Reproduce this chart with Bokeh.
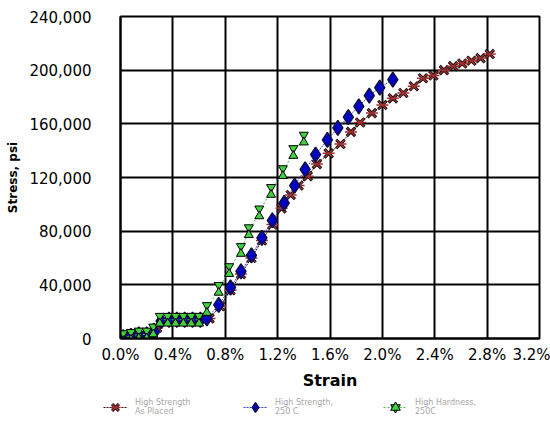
from bokeh.plotting import figure
from bokeh.layouts import column
from bokeh.models import (FixedTicker, NumeralTickFormatter, PrintfTickFormatter,
                          Legend, LegendItem, ColumnDataSource)
from bokeh.transform import dodge
from bokeh.embed import file_html
from bokeh.resources import INLINE

# Strain in percent, stress in thousands of psi
hs_placed_strain = [0.02, 0.09, 0.16, 0.22, 0.28, 0.33, 0.39, 0.45, 0.51, 0.57, 0.63,
                    0.68, 0.76, 0.84, 0.92, 1.00, 1.08, 1.16, 1.23, 1.30, 1.36, 1.43,
                    1.50, 1.59, 1.68, 1.76, 1.83, 1.92, 2.00, 2.08, 2.16, 2.24, 2.31,
                    2.39, 2.47, 2.54, 2.61, 2.68, 2.75, 2.82]
hs_placed_stress = [1, 2, 3, 4, 8, 13, 14, 14, 14, 14, 14,
                    15, 24, 36, 48, 60, 73, 85, 97, 107, 114, 121,
                    130, 138, 145, 154, 161, 168, 174, 179, 183, 188, 194,
                    196, 200, 203, 205, 207, 209, 212]

hs_250_strain = [0.02, 0.08, 0.14, 0.20, 0.26, 0.31, 0.37, 0.43, 0.49, 0.55, 0.61,
                 0.66, 0.75, 0.84, 0.92, 1.00, 1.08, 1.16, 1.25, 1.33, 1.41, 1.49,
                 1.58, 1.66, 1.74, 1.82, 1.90, 1.98, 2.08]
hs_250_stress = [1, 2, 3, 3, 5, 13, 14, 14, 14, 14, 14,
                 15, 25, 38, 50, 62, 75, 88, 101, 114, 126, 137,
                 148, 157, 165, 173, 181, 187, 193]

hh_250_strain = [0.02, 0.08, 0.14, 0.20, 0.25, 0.30, 0.36, 0.42, 0.48, 0.54, 0.60,
                 0.66, 0.75, 0.83, 0.92, 0.98, 1.06, 1.15, 1.24, 1.32, 1.40]
hh_250_stress = [1, 2, 3, 3, 6, 14, 14, 14, 14, 14, 14,
                 22, 37, 51, 66, 80, 94, 110, 124, 139, 149]

labels = ["High Strength\nAs Placed", "High Strength,\n250 C", "High Hardness,\n250C"]
y_ticks = [0, 40000, 80000, 120000, 160000, 200000, 240000]
x_ticks = [0.0, 0.4, 0.8, 1.2, 1.6, 2.0, 2.4, 2.8, 3.2]

# Marker / line styles shared by the chart and its key
RED_LINE = dict(line_color="#3a0a0a", line_width=1, line_dash="2 1")
RED_X1 = dict(marker="x", size=12, line_color="black", line_width=3)
RED_X2 = dict(marker="x", size=11, line_color="#a03030", line_width=1.5)
RED_BAR = dict(marker="dash", size=12, line_color="#a03030", line_width=1.5)
BLUE_LINE = dict(line_color="#4040d0", line_width=1, line_dash="2 1")
BLUE_M = dict(marker="diamond", size=15, fill_color="#0000c8", line_color="#101040", line_width=1.5)
GREEN_LINE = dict(line_color="#40c040", line_width=1, line_dash="2 2")
GREEN_TOP = dict(marker="inverted_triangle", size=9, fill_color="#40d040", line_color="black", line_width=1)
GREEN_BOT = dict(marker="triangle", size=9, fill_color="#40d040", line_color="black", line_width=1)

p = figure(width=550, height=392, output_backend="svg", toolbar_location=None,
           x_range=(0, 3.2), y_range=(0, 240000),
           min_border_left=120, min_border_right=11, min_border_top=16,
           min_border_bottom=54)
p.frame_align = False
p.background_fill_color = "white"
p.border_fill_color = "white"
p.outline_line_color = "black"
p.outline_line_width = 2

for ax in (p.xaxis[0], p.yaxis[0]):
    ax.major_label_text_font = "DejaVu Sans"
    ax.major_label_text_font_size = "15px"
    ax.major_label_text_color = "black"
    ax.major_tick_line_color = None
    ax.minor_tick_line_color = None
    ax.major_tick_out = 0
    ax.minor_tick_out = 0
    ax.major_tick_in = 0
    ax.minor_tick_in = 0
    ax.axis_line_color = "black"
    ax.axis_line_width = 2
    ax.axis_label_text_font = "DejaVu Sans"
    ax.axis_label_text_font_style = "bold"
    ax.axis_label_text_color = "black"

p.xaxis.ticker = FixedTicker(ticks=x_ticks)
p.xaxis.formatter = PrintfTickFormatter(format="%.1f%%")
p.xaxis.major_label_standoff = 7
p.xaxis.axis_label = "Strain"
p.xaxis.axis_label_text_font_size = "16px"
p.xaxis.axis_label_standoff = 4

p.yaxis.ticker = FixedTicker(ticks=y_ticks)
p.yaxis.formatter = NumeralTickFormatter(format="0,0")
p.yaxis.major_label_standoff = 29
p.yaxis.axis_label = "Stress, psi"
p.yaxis.axis_label_text_font_size = "12px"
p.yaxis.axis_label_standoff = 6

p.xgrid.ticker = FixedTicker(ticks=x_ticks)
p.ygrid.ticker = FixedTicker(ticks=y_ticks)
for g in (p.xgrid[0], p.ygrid[0]):
    g.grid_line_color = "black"
    g.grid_line_width = 2

def src(xs, ys):
    return ColumnDataSource(dict(x=xs, y=[v * 1000 for v in ys]))

s_red = src(hs_placed_strain, hs_placed_stress)
s_blue = src(hs_250_strain, hs_250_stress)
s_green = src(hh_250_strain, hh_250_stress)

def draw_series(fig):
    """Draw the three curves on fig; return the renderers per series."""
    red = [fig.line("x", "y", source=s_red, **RED_LINE),
           fig.scatter("x", "y", source=s_red, **RED_X1),
           fig.scatter("x", "y", source=s_red, **RED_X2),
           fig.scatter("x", "y", source=s_red, **RED_BAR)]
    blue = [fig.line("x", "y", source=s_blue, **BLUE_LINE),
            fig.scatter("x", "y", source=s_blue, **BLUE_M)]
    green = [fig.line("x", "y", source=s_green, **GREEN_LINE),
             fig.scatter(x="x", y=dodge("y", 2800), source=s_green, **GREEN_TOP),
             fig.scatter(x="x", y=dodge("y", -2800), source=s_green, **GREEN_BOT)]
    return red, blue, green

draw_series(p)

# Key strip under the chart; its ranges sit below every stress value,
# so only the legend swatches show here.
k = figure(width=550, height=29, output_backend="svg", toolbar_location=None,
           x_range=(0, 1), y_range=(-2, -1), min_border=0)
k.frame_align = False
k.axis.visible = False
k.grid.visible = False
k.outline_line_color = None
k.border_fill_color = "white"
k.background_fill_color = "white"
kr, kb, kg = draw_series(k)

legend = Legend(items=[
    LegendItem(label=labels[0], renderers=kr),
    LegendItem(label=labels[1], renderers=kb),
    LegendItem(label=labels[2], renderers=kg),
], orientation="horizontal", location=(103, 0),
    label_text_font="DejaVu Sans", label_text_font_size="8px",
    label_text_line_height=1.1,
    label_text_color="#a8a8a8", label_width=108, label_standoff=8,
    glyph_width=24, glyph_height=28, spacing=0, padding=0, margin=0,
    border_line_color=None, background_fill_alpha=0)
k.add_layout(legend)

open("out.html", "w").write(file_html(column(p, k, spacing=0), INLINE))
